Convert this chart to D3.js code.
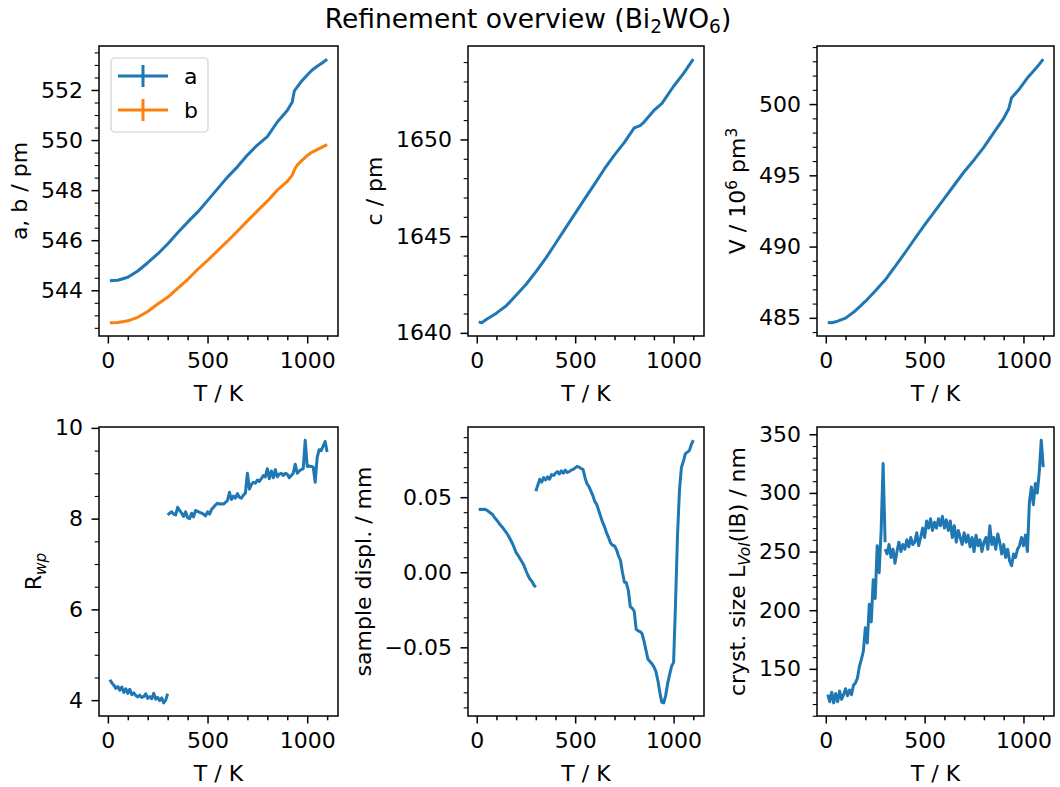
<!DOCTYPE html>
<html>
<head>
<meta charset="utf-8">
<script src="https://cdn.jsdelivr.net/npm/d3@7"></script>
<style>
body { margin: 0; background: #fff; }
text { font-family: "DejaVu Sans", sans-serif; fill: #000; }
</style>
</head>
<body>
<svg id="chart" width="1060" height="787"></svg>
<script>
// ---- data ----

// lattice parameters a, b (pm)
const tLattice = [10, 50, 100, 150, 200, 250, 300, 350, 400, 450, 500, 550, 600, 650, 700, 750, 800, 850, 900, 925, 935, 950, 975, 1000, 1025, 1050, 1075, 1100];
const latticeA = [544.38, 544.40, 544.52, 544.77, 545.10, 545.45, 545.85, 546.30, 546.72, 547.12, 547.58, 548.05, 548.52, 548.93, 549.40, 549.80, 550.14, 550.72, 551.18, 551.52, 551.95, 552.12, 552.38, 552.60, 552.80, 552.95, 553.08, 553.23];
const latticeB = [542.70, 542.71, 542.78, 542.92, 543.15, 543.45, 543.72, 544.08, 544.43, 544.83, 545.19, 545.58, 545.96, 546.36, 546.77, 547.17, 547.56, 548.00, 548.35, 548.60, 548.80, 549.00, 549.20, 549.38, 549.52, 549.62, 549.72, 549.82];

// lattice parameter c (pm)
const tC = [10, 25, 50, 100, 150, 200, 250, 300, 350, 400, 450, 500, 550, 600, 650, 700, 750, 800, 830, 850, 900, 940, 1000, 1050, 1100];
const latticeC = [1640.57, 1640.52, 1640.70, 1641.02, 1641.40, 1641.95, 1642.50, 1643.15, 1643.85, 1644.62, 1645.40, 1646.18, 1646.95, 1647.72, 1648.50, 1649.20, 1649.85, 1650.60, 1650.72, 1650.90, 1651.50, 1651.85, 1652.75, 1653.40, 1654.15];

// cell volume (10^6 pm^3)
const tVol = [10, 30, 50, 100, 150, 200, 250, 300, 350, 400, 450, 500, 550, 600, 650, 700, 750, 800, 850, 900, 925, 940, 975, 1000, 1025, 1050, 1075, 1100];
const volume = [484.67, 484.65, 484.72, 484.98, 485.50, 486.15, 486.88, 487.65, 488.60, 489.55, 490.55, 491.52, 492.45, 493.38, 494.32, 495.25, 496.08, 496.98, 498.00, 499.00, 499.65, 500.45, 500.98, 501.45, 501.92, 502.30, 502.70, 503.15];

// two measurement runs: low-temperature and high-temperature
const tLow = [10, 20, 30, 40, 50, 60, 70, 80, 90, 100, 110, 120, 130, 140, 150, 160, 170, 180, 190, 200, 210, 220, 230, 240, 250, 260, 270, 280, 290, 300];
const tHigh = [300, 310, 320, 330, 340, 350, 360, 370, 380, 390, 400, 410, 420, 430, 440, 450, 460, 470, 480, 490,
  500, 510, 520, 530, 540, 550, 560, 570, 580, 590, 600, 610, 620, 630, 640, 650, 660, 670, 680, 690,
  700, 710, 720, 730, 740, 750, 760, 770, 780, 790, 800, 810, 820, 830, 840, 850, 860, 870, 880, 890,
  900, 910, 920, 930, 940, 950, 960, 970, 980, 990, 1000, 1010, 1020, 1030, 1040, 1050, 1060, 1070, 1080, 1090, 1100];

const rwpLow = [4.45, 4.38, 4.33, 4.26, 4.30, 4.22, 4.29, 4.17, 4.25, 4.15, 4.24, 4.12, 4.16, 4.10, 4.07, 4.11, 4.06, 4.08, 4.14, 4.04, 4.08, 4.03, 4.15, 4.02, 4.06, 3.99, 4.05, 3.94, 4.00, 4.14];
const rwpHigh = [8.08, 8.12, 8.15, 8.10, 8.08, 8.25, 8.18, 8.12, 8.05, 8.15, 8.02, 8.00, 8.12, 8.04, 8.18, 8.16, 8.14, 8.12, 8.10, 8.06,
  8.15, 8.10, 8.20, 8.25, 8.30, 8.34, 8.32, 8.33, 8.32, 8.36, 8.40, 8.58, 8.42, 8.50, 8.45, 8.55, 8.47, 8.45, 8.52, 8.56,
  9.00, 8.65, 8.75, 8.80, 8.78, 8.85, 8.82, 8.88, 8.95, 8.92, 9.10, 8.88, 9.05, 8.90, 9.08, 8.92, 8.98, 9.00, 8.95, 9.00,
  8.98, 8.90, 8.95, 9.00, 9.20, 9.00, 9.05, 9.08, 9.10, 9.73, 9.15, 9.16, 9.15, 9.14, 8.80, 9.35, 9.52, 9.50, 9.60, 9.70, 9.47];

const displLow = [0.0415, 0.0420, 0.0418, 0.0420, 0.0414, 0.0405, 0.0395, 0.0385, 0.0365, 0.0350, 0.0332, 0.0315, 0.0300, 0.0282, 0.0265, 0.0245, 0.0220, 0.0195, 0.0165, 0.0130, 0.0112, 0.0090, 0.0068, 0.0045, 0.0010, -0.0020, -0.0045, -0.0060, -0.0085, -0.0100];
const displHigh = [0.0540, 0.0580, 0.0620, 0.0600, 0.0630, 0.0615, 0.0635, 0.0620, 0.0650, 0.0645, 0.0660, 0.0670, 0.0655, 0.0675, 0.0660, 0.0680, 0.0665, 0.0670, 0.0680, 0.0685,
  0.0695, 0.0705, 0.0700, 0.0690, 0.0685, 0.0630, 0.0590, 0.0570, 0.0540, 0.0510, 0.0470, 0.0450, 0.0410, 0.0370, 0.0330, 0.0300, 0.0260, 0.0230, 0.0195, 0.0180,
  0.0175, 0.0150, 0.0110, 0.0080, 0.0000, -0.0065, -0.0070, -0.0120, -0.0230, -0.0240, -0.0260, -0.0380, -0.0390, -0.0395, -0.0410, -0.0460, -0.0520, -0.0580, -0.0595, -0.0610,
  -0.0630, -0.0660, -0.0720, -0.0800, -0.0865, -0.0870, -0.0820, -0.0740, -0.0680, -0.0625, -0.0600, -0.0200, 0.0250, 0.0550, 0.0700, 0.0740, 0.0790, 0.0800, 0.0810, 0.0850, 0.0880];

const sizeLow = [128, 122, 130, 121, 129, 122, 131, 124, 128, 133, 127, 132, 128, 136, 138, 142, 152, 158, 165, 185, 172, 205, 190, 226, 210, 255, 232, 268, 325, 258];
const sizeHigh = [252, 248, 256, 245, 252, 240, 250, 258, 250, 256, 252, 260, 254, 262, 256, 258, 266, 255, 262, 270,
  262, 276, 270, 278, 268, 275, 270, 278, 272, 280, 270, 277, 268, 276, 262, 272, 258, 268, 262, 256,
  266, 258, 264, 254, 262, 250, 264, 255, 260, 250, 258, 262, 252, 272, 256, 262, 252, 265, 258, 248,
  256, 245, 252, 242, 238, 248, 245, 252, 255, 262, 255, 264, 250, 292, 305, 290, 308, 300, 318, 345, 322];

// tick values
const xTicks = [0, 500, 1000];
const xMinor = [100, 200, 300, 400, 600, 700, 800, 900, 1100];
const abTicks = [544, 546, 548, 550, 552];
const cTicks = [1640, 1645, 1650];
const volTicks = [485, 490, 495, 500];
const rwpTicks = [4, 6, 8, 10];
const displTicks = [-0.05, 0.00, 0.05];
const sizeTicks = [150, 200, 250, 300, 350];

// ---- drawing ----
const blue = "#1f77b4", orange = "#ff7f0e";
const FS = 22;          // tick / label font size
const TICK = 7.5, MINOR = 4.3, PAD = 8.5, LABELPAD = 8.5;
const LW = 3;

const svg = d3.select("#chart");

const cols = [{left: 99, right: 338}, {left: 468, right: 704}, {left: 817, right: 1054}];
const rows = [{top: 46, bottom: 336}, {top: 427, bottom: 716}];

// write text with sub/superscript parts
function rich(sel, parts, size) {
  let shift = 0;
  parts.forEach(p => {
    const target = p.sub ? size * 0.22 : p.sup ? -size * 0.4 : 0;
    const ts = sel.append("tspan").text(p.t).attr("dy", target - shift);
    if (p.sub || p.sup) ts.attr("font-size", size * 0.7);
    if (p.italic) ts.attr("font-style", "italic");
    shift = target;
  });
}

function padded(ext) {
  const r = ext[1] - ext[0];
  return [ext[0] - 0.05 * r, ext[1] + 0.05 * r];
}

// minor ticks between min and max of domain with given step, skipping majors
function minorTicks(domain, step, majors) {
  const out = [];
  const start = Math.ceil(domain[0] / step);
  const end = Math.floor(domain[1] / step);
  for (let i = start; i <= end; i++) {
    const v = +(i * step).toFixed(6);
    if (!majors.some(m => Math.abs(m - v) < step * 1e-3)) out.push(v);
  }
  return out;
}

let clipId = 0;

function drawPanel(box, cfg) {
  const g = svg.append("g");
  const allT = d3.merge(cfg.series.map(s => s.t));
  const allV = d3.merge(cfg.series.map(s => s.v));
  const x = d3.scaleLinear().domain(padded(d3.extent(allT))).range([box.left, box.right]);
  const y = d3.scaleLinear().domain(padded(d3.extent(allV))).range([box.bottom, box.top]);

  const id = "clip" + (clipId++);
  g.append("clipPath").attr("id", id).append("rect")
    .attr("x", box.left).attr("y", box.top)
    .attr("width", box.right - box.left).attr("height", box.bottom - box.top);

  const line = d3.line().x(d => x(d[0])).y(d => y(d[1]));
  cfg.series.forEach(s => {
    g.append("path")
      .datum(d3.zip(s.t, s.v))
      .attr("clip-path", `url(#${id})`)
      .attr("d", line)
      .attr("fill", "none")
      .attr("stroke", s.color)
      .attr("stroke-width", LW)
      .attr("stroke-linejoin", "round");
  });

  // x axis
  g.append("g").attr("transform", `translate(0,${box.bottom})`)
    .call(d3.axisBottom(x).tickValues(xTicks).tickSize(TICK).tickPadding(PAD).tickFormat(d3.format("d")));
  g.append("g").attr("transform", `translate(0,${box.bottom})`)
    .call(d3.axisBottom(x).tickValues(xMinor).tickSize(MINOR).tickFormat(""));

  // y axis
  const ya = g.append("g").attr("transform", `translate(${box.left},0)`)
    .call(d3.axisLeft(y).tickValues(cfg.yTicks).tickSize(TICK).tickPadding(PAD).tickFormat(cfg.fmt));
  const ym = g.append("g").attr("transform", `translate(${box.left},0)`)
    .call(d3.axisLeft(y).tickValues(minorTicks(y.domain(), cfg.minorStep, cfg.yTicks)).tickSize(MINOR).tickFormat(""));

  g.selectAll(".domain").remove();
  g.selectAll(".tick line").attr("stroke", "#000").attr("stroke-width", 1.5);
  ym.selectAll(".tick line").attr("stroke-width", 1.1);
  g.selectAll(".tick text").attr("font-size", FS).attr("font-family", "DejaVu Sans").attr("fill", "#000");

  // frame
  g.append("rect")
    .attr("x", box.left).attr("y", box.top)
    .attr("width", box.right - box.left).attr("height", box.bottom - box.top)
    .attr("fill", "none").attr("stroke", "#000").attr("stroke-width", 1.5);

  // x label
  g.append("text")
    .attr("x", (box.left + box.right) / 2).attr("y", box.bottom + 64.5)
    .attr("text-anchor", "middle").attr("font-size", FS)
    .text("T / K");

  // y label, placed left of the tick labels
  let left = box.left;
  ya.selectAll(".tick text").each(function () {
    const bb = this.getBBox();
    const m = this.parentNode.transform.baseVal.consolidate().matrix;
    left = Math.min(left, box.left + m.e + bb.x);
  });
  const lx = left - LABELPAD - FS * 0.236;
  const ly = (box.top + box.bottom) / 2;
  const yl = g.append("text")
    .attr("transform", `translate(${lx},${ly}) rotate(-90)`)
    .attr("text-anchor", "middle").attr("font-size", FS);
  rich(yl, cfg.ylabel, FS);

  return {x, y, g};
}

drawPanel({...cols[0], ...rows[0]}, {
  series: [{t: tLattice, v: latticeA, color: blue}, {t: tLattice, v: latticeB, color: orange}],
  yTicks: abTicks, minorStep: 0.5, fmt: d3.format("d"),
  ylabel: [{t: "a, b / pm"}]
});
drawPanel({...cols[1], ...rows[0]}, {
  series: [{t: tC, v: latticeC, color: blue}],
  yTicks: cTicks, minorStep: 1, fmt: d3.format("d"),
  ylabel: [{t: "c / pm"}]
});
drawPanel({...cols[2], ...rows[0]}, {
  series: [{t: tVol, v: volume, color: blue}],
  yTicks: volTicks, minorStep: 1, fmt: d3.format("d"),
  ylabel: [{t: "V / 10"}, {t: "6", sup: true}, {t: " pm"}, {t: "3", sup: true}]
});
drawPanel({...cols[0], ...rows[1]}, {
  series: [{t: tLow, v: rwpLow, color: blue}, {t: tHigh, v: rwpHigh, color: blue}],
  yTicks: rwpTicks, minorStep: 0.5, fmt: d3.format("d"),
  ylabel: [{t: "R"}, {t: "wp", sub: true, italic: true}]
});
drawPanel({...cols[1], ...rows[1]}, {
  series: [{t: tLow, v: displLow, color: blue}, {t: tHigh, v: displHigh, color: blue}],
  yTicks: displTicks, minorStep: 0.01, fmt: d3.format(".2f"),
  ylabel: [{t: "sample displ. / mm"}]
});
drawPanel({...cols[2], ...rows[1]}, {
  series: [{t: tLow, v: sizeLow, color: blue}, {t: tHigh, v: sizeHigh, color: blue}],
  yTicks: sizeTicks, minorStep: 10, fmt: d3.format("d"),
  ylabel: [{t: "cryst. size L"}, {t: "Vol", sub: true, italic: true}, {t: "(IB) / nm"}]
});

// legend (errorbar style handles)
const legendItems = [{label: "a", color: blue}, {label: "b", color: orange}];
const lg = svg.append("g");
lg.append("rect")
  .attr("x", 111).attr("y", 58).attr("width", 97).attr("height", 74).attr("rx", 4)
  .attr("fill", "#fff").attr("fill-opacity", 0.8)
  .attr("stroke", "#d0d0d0").attr("stroke-width", 1.2);
legendItems.forEach((d, i) => {
  const cy = 76 + i * 34;
  lg.append("line").attr("x1", 118).attr("x2", 168).attr("y1", cy).attr("y2", cy)
    .attr("stroke", d.color).attr("stroke-width", LW);
  lg.append("line").attr("x1", 143).attr("x2", 143).attr("y1", cy - 11).attr("y2", cy + 11)
    .attr("stroke", d.color).attr("stroke-width", LW);
  lg.append("text").attr("x", 184).attr("y", cy + 8).attr("font-size", FS).text(d.label);
});

// title
const title = svg.append("text")
  .attr("x", 528).attr("y", 27.5)
  .attr("text-anchor", "middle").attr("font-size", 26.5);
rich(title, [{t: "Refinement overview (Bi"}, {t: "2", sub: true}, {t: "WO"}, {t: "6", sub: true}, {t: ")"}], 26.5);
</script>
</body>
</html>
